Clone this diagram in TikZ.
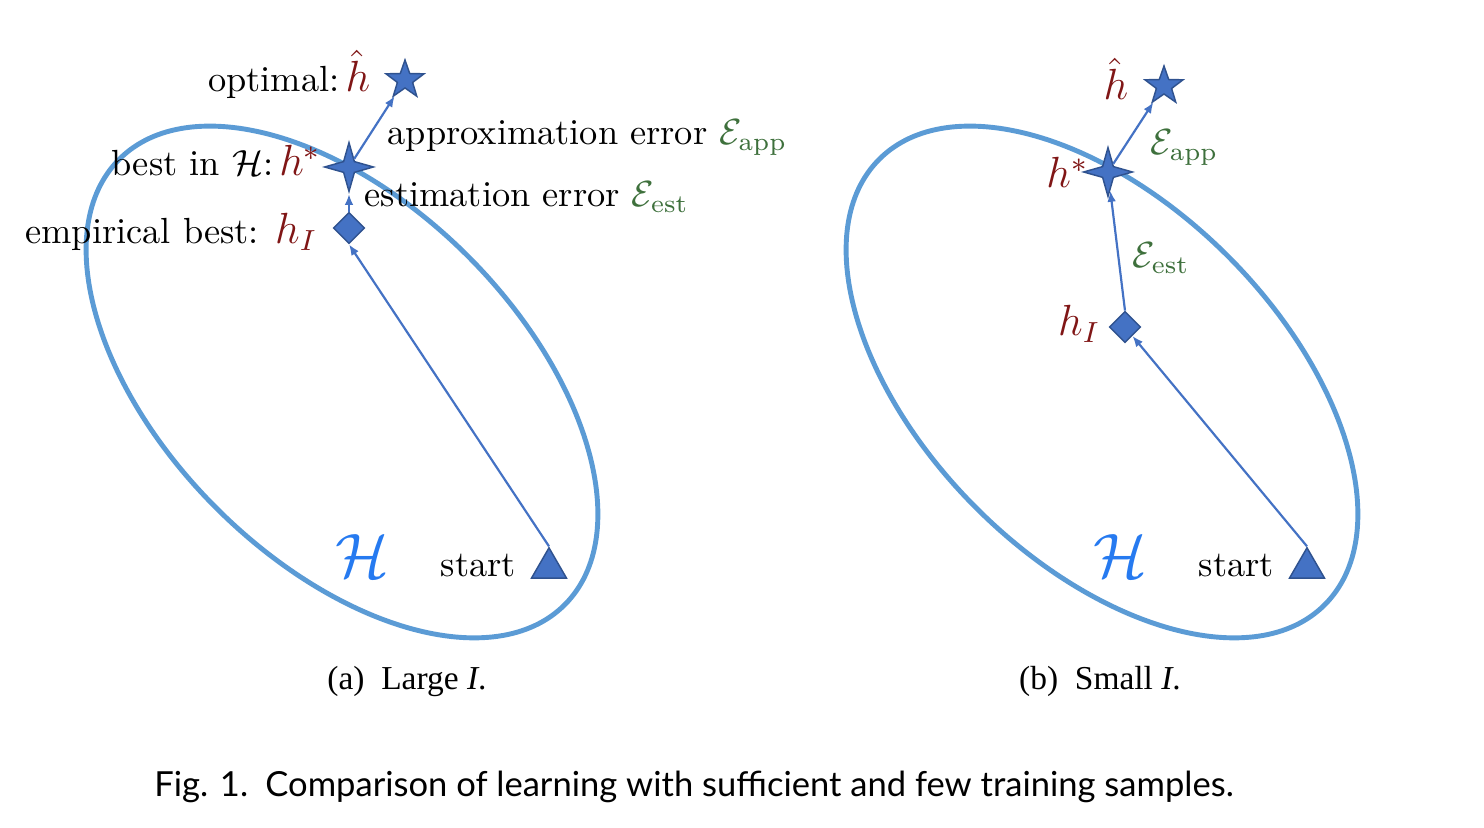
\documentclass[tikz,border=0pt]{standalone}
\usepackage{xcolor}
\usepackage{amsmath}
\usepackage{amssymb}
\usepackage{fontspec}
\newfontfamily\capfont{Lato}
\newfontfamily\subfont{Liberation Serif}
\usetikzlibrary{arrows.meta}
\usetikzlibrary{shapes.geometric}
\usetikzlibrary{positioning}

\definecolor{hypblue}{RGB}{68,114,196}
\definecolor{hypedge}{RGB}{47,82,143}
\definecolor{setblue}{RGB}{91,155,213}
\definecolor{hred}{RGB}{128,22,22}
\definecolor{errgreen}{RGB}{62,112,60}
\definecolor{calblue}{RGB}{38,122,240}

\begin{document}
\begin{tikzpicture}[
       x = 0.275pt, y = -0.275pt,
    hset/.style = {draw=setblue, line width=1.35pt},
    five/.style = {star, star points=5, star point ratio=2.5, draw=hypedge,
                   fill=hypblue, minimum size=11pt, inner sep=0pt},
    four/.style = {star, star points=4, star point ratio=3.2, draw=hypedge,
                   fill=hypblue, minimum size=13.4pt, inner sep=0pt},
     gem/.style = {diamond, draw=hypedge, fill=hypblue, inner sep=0pt,
                   minimum width=8.6pt, minimum height=8.6pt},
     tri/.style = {regular polygon, regular polygon sides=3, draw=hypedge,
                   fill=hypblue, inner sep=0pt, minimum size=11.1pt},
    move/.style = {draw=hypblue, line width=0.6pt, -{Latex[length=3pt,width=2.4pt]}},
     txt/.style = {inner sep=0pt, font=\fontsize{10}{12}\selectfont},
     cal/.style = {inner sep=0pt, anchor=base, text=calblue, font=\fontsize{19}{20}\selectfont},
     sub/.style = {inner sep=0pt, anchor=base, font=\subfont\fontsize{9.2}{11}\selectfont}
                   ]
\useasboundingbox (0,0) rectangle (1484,828);

% the two hypothesis spaces
\foreach \cx in {342, 1102}
    \draw[hset, rotate around={-45:(\cx,382)}] (\cx,382) ellipse [x radius=315, y radius=178];

% (a) large I
\node[tri]  (init1) at (549,568) {};
\node[gem]  (emp1)  at (349,228) {};
\node[four] (best1) at (349,167) {};
\node[five] (opt1)  at (405,80)  {};
\draw[move] (init1.corner 1) -- (emp1.south);
\draw[move] (emp1.north) -- (best1);
\draw[move] (best1) -- (opt1);

\node[txt, anchor=base east] (optlab1)  at (371,92)  {optimal:\,\textcolor{hred}{\large$\hat{h}$}};
\node[txt, anchor=base west] (applab1)  at (387,145) {approximation error \textcolor{errgreen}{$\mathcal{E}_{\text{app}}$}};
\node[txt, anchor=base east] (bestlab1) at (322,176) {best in $\mathcal{H}$:\,\textcolor{hred}{\large$h^*$}};
\node[txt, anchor=base west] (estlab1)  at (364,207) {estimation error \textcolor{errgreen}{$\mathcal{E}_{\text{est}}$}};
\node[txt, anchor=base east] (emplab1)  at (318,244) {empirical best: \textcolor{hred}{\large$h_I$}};
\node[txt, anchor=base west] (initlab1) at (440,577) {start};
\node[cal] (space1) at (362,578) {$\mathcal{H}$};
\node[sub] (capa) at (407,690) {(a)\enspace Large \textit{I}.};

% (b) small I
\node[tri]  (init2) at (1307,568) {};
\node[gem]  (emp2)  at (1125,327) {};
\node[four] (best2) at (1108,172) {};
\node[five] (opt2)  at (1164,86)  {};
\draw[move] (init2.corner 1) -- (emp2);
\draw[move] (emp2.north) -- (best2);
\draw[move] (best2) -- (opt2);

\node[txt, anchor=base east] (optlab2)  at (1129,100) {\textcolor{hred}{\large$\hat{h}$}};
\node[txt, anchor=base west] (applab2)  at (1150,155) {\textcolor{errgreen}{$\mathcal{E}_{\text{app}}$}};
\node[txt, anchor=base east] (bestlab2) at (1089,188) {\textcolor{hred}{\large$h^*$}};
\node[txt, anchor=base west] (estlab2)  at (1132,268) {\textcolor{errgreen}{$\mathcal{E}_{\text{est}}$}};
\node[txt, anchor=base east] (emplab2)  at (1101,336) {\textcolor{hred}{\large$h_I$}};
\node[txt, anchor=base west] (initlab2) at (1198,577) {start};
\node[cal] (space2) at (1120,578) {$\mathcal{H}$};
\node[sub] (capb) at (1100,690) {(b)\enspace Small \textit{I}.};

% figure caption
\node[inner sep=0pt, anchor=base, font=\capfont\fontsize{9.5}{11}\selectfont] (fig) at (694,797)
    {Fig. 1.\enspace Comparison of learning with sufficient and few training samples.};
\end{tikzpicture}
\end{document}
